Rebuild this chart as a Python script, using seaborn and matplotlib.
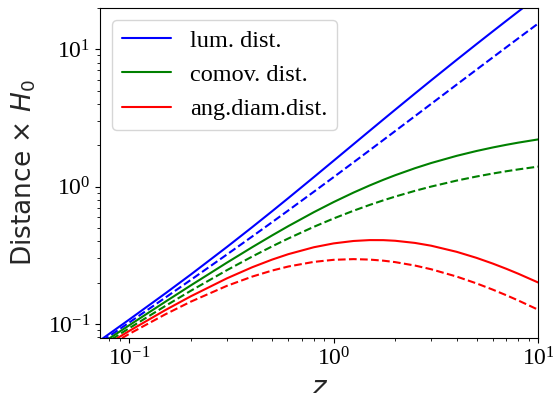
import pandas as pd
import seaborn as sns
import matplotlib
matplotlib.use("Agg")
import matplotlib.pyplot as plt

# redshift grid
z = [0.06, 0.07, 0.1, 0.15, 0.2, 0.3, 0.4, 0.5, 0.6, 0.8, 1.0, 1.25,
     1.5, 1.75, 2.0, 2.5, 3.0, 4.0, 5.0, 6.0, 7.0, 8.0, 10.0]

# solid curves (flat, Om=0.3)
lum = [0.0628, 0.0737, 0.1076, 0.1666, 0.2288, 0.3626, 0.5072, 0.6615, 0.8243,
       1.1716, 1.5428, 2.0333, 2.5473, 3.080, 3.6282, 4.7621, 5.936, 8.371,
       10.893, 13.479, 16.116, 18.794, 24.246]
comov = [0.0592, 0.0689, 0.0978, 0.1449, 0.1907, 0.2789, 0.3623, 0.4410, 0.5152,
         0.6509, 0.7714, 0.9037, 1.0189, 1.1200, 1.2094, 1.3606, 1.4840, 1.6742,
         1.8155, 1.9256, 2.0145, 2.0882, 2.2042]
ang = [0.0558, 0.0644, 0.0889, 0.1260, 0.1589, 0.2145, 0.2588, 0.2940, 0.3220,
       0.3616, 0.3857, 0.4016, 0.4076, 0.4073, 0.4031, 0.3887, 0.3710, 0.3348,
       0.3026, 0.2751, 0.2518, 0.2320, 0.2004]

# dashed curves (Om=1)
lum_eds = [0.06088, 0.07118, 0.10239, 0.15525, 0.20911, 0.31964, 0.43358, 0.55052,
           0.67018, 0.91672, 1.17158, 1.5, 1.83773, 2.18339, 2.53590, 3.25833, 4.0,
           5.52786, 7.10100, 8.70849, 10.34312, 12.0, 15.36678]
comov_eds = [0.05743, 0.06652, 0.09308, 0.13500, 0.17426, 0.24588, 0.30970, 0.36701,
             0.41886, 0.50929, 0.58579, 0.66667, 0.73509, 0.79396, 0.84530, 0.93095,
             1.0, 1.10557, 1.18350, 1.24407, 1.29289, 1.33333, 1.39698]
ang_eds = [0.05418, 0.06217, 0.08462, 0.11739, 0.14522, 0.18914, 0.22121, 0.24467,
           0.26179, 0.28294, 0.29289, 0.29630, 0.29404, 0.28871, 0.28177, 0.26599,
           0.25, 0.22111, 0.19725, 0.17772, 0.16161, 0.14815, 0.12700]

df = pd.DataFrame({'z': z, 'lum': lum, 'comov': comov, 'ang': ang,
                   'lum_eds': lum_eds, 'comov_eds': comov_eds, 'ang_eds': ang_eds})

sns.set_style('ticks')
plt.rcParams.update({
    'font.family': ['serif'],
    'font.serif': ['Liberation Serif', 'DejaVu Serif'],
    'mathtext.fontset': 'stix',
    'axes.edgecolor': 'black',
    'axes.linewidth': 0.8,
    'xtick.color': 'black',
    'ytick.color': 'black',
    'text.color': 'black',
    'xtick.major.size': 3.5, 'ytick.major.size': 3.5,
    'xtick.minor.size': 2, 'ytick.minor.size': 2,
    'xtick.major.width': 0.8, 'ytick.major.width': 0.8,
    'xtick.minor.width': 0.6, 'ytick.minor.width': 0.6,
})

fig = plt.figure(figsize=(5.53, 3.93), dpi=100)
ax = fig.add_axes([0.181, 0.140, 0.792, 0.840])

sns.lineplot(data=df, x='z', y='lum', color='blue', lw=1.5, label='lum. dist.', ax=ax)
sns.lineplot(data=df, x='z', y='lum_eds', color='blue', lw=1.5, ls='--', ax=ax)
sns.lineplot(data=df, x='z', y='comov', color='green', lw=1.5, label='comov. dist.', ax=ax)
sns.lineplot(data=df, x='z', y='comov_eds', color='green', lw=1.5, ls='--', ax=ax)
sns.lineplot(data=df, x='z', y='ang', color='red', lw=1.5, label='ang.diam.dist.', ax=ax)
sns.lineplot(data=df, x='z', y='ang_eds', color='red', lw=1.5, ls='--', ax=ax)

ax.set_xscale('log')
ax.set_yscale('log')
ax.set_xlim(0.072, 10)
ax.set_ylim(0.079, 20)

ax.set_xlabel('$z$', fontsize=20, family='DejaVu Sans', math_fontfamily='dejavusans',
              labelpad=2)
ax.set_ylabel('Distance × $H_0$', fontsize=19, family='DejaVu Sans',
              math_fontfamily='dejavusans', labelpad=7)
ax.tick_params(labelsize=17)

ax.legend(loc='upper left', fontsize=17.5, frameon=True)

fig.savefig('out.png', dpi=100)
